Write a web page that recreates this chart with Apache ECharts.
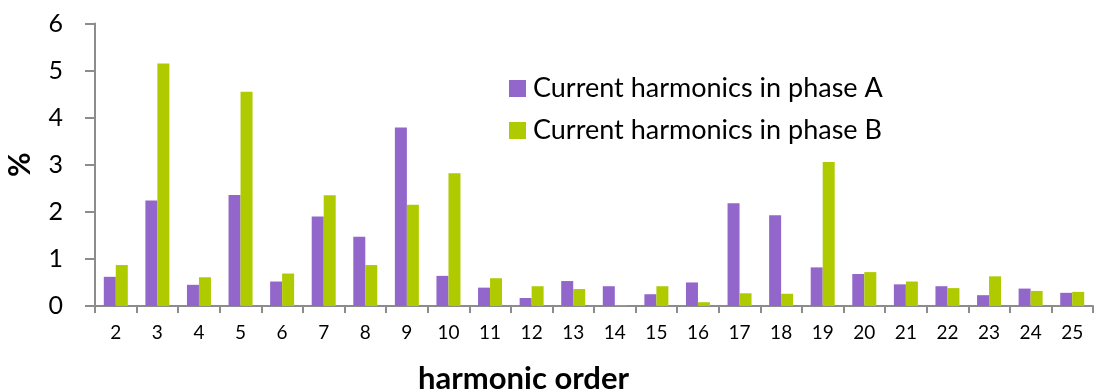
<!DOCTYPE html>
<html>
<head>
<meta charset="utf-8">
<script src="https://cdn.jsdelivr.net/npm/echarts@6/dist/echarts.min.js"></script>
<style>html,body{margin:0;padding:0;background:#fff;}#c{width:1094px;height:392px;}</style>
</head>
<body>
<div id="c"></div>
<script>
const categories = ['2','3','4','5','6','7','8','9','10','11','12','13','14','15','16','17','18','19','20','21','22','23','24','25'];
const phaseA = [0.62,2.24,0.45,2.36,0.52,1.90,1.47,3.79,0.64,0.39,0.17,0.53,0.42,0.25,0.50,2.18,1.93,0.82,0.68,0.46,0.42,0.23,0.37,0.28];
const phaseB = [0.87,5.15,0.61,4.55,0.69,2.35,0.87,2.15,2.82,0.59,0.42,0.36,0.01,0.42,0.08,0.27,0.26,3.06,0.72,0.52,0.38,0.63,0.32,0.30];
const seriesNames = ['Current harmonics in phase A','Current harmonics in phase B'];
const yTicks = {min:0, max:6, interval:1};

const FONT = 'Lato';
const chart = echarts.init(document.getElementById('c'), null, {renderer:'canvas'});
chart.setOption({
  animation:false,
  textStyle:{fontFamily:FONT},
  title:{text:'harmonic order', left:413, top:358,
    textStyle:{fontFamily:FONT, fontSize:31, fontWeight:'bold', color:'#000'}},
  legend:{orient:'vertical', left:509, top:75, padding:0, itemWidth:17, itemHeight:17, itemGap:15, icon:'rect',
    textStyle:{fontFamily:FONT, fontSize:27, lineHeight:20, color:'#000', padding:[0,0,0,2]},
    data:seriesNames},
  grid:{left:95, right:1, top:23.5, bottom:86, containLabel:false, outerBoundsMode:'none'},
  xAxis:{type:'category', data:categories,
    axisLine:{lineStyle:{color:'#8c8c8c', width:2}},
    axisTick:{show:true, length:7, lineStyle:{color:'#8c8c8c', width:2}},
    axisLabel:{color:'#000', fontSize:19, fontFamily:FONT, margin:17}},
  yAxis:{type:'value', min:yTicks.min, max:yTicks.max, interval:yTicks.interval,
    name:'%', nameLocation:'middle', nameGap:60, nameRotate:90,
    nameTextStyle:{fontFamily:FONT, fontSize:30, fontWeight:'bold', color:'#000'},
    splitLine:{show:false},
    axisLine:{show:true, lineStyle:{color:'#8c8c8c', width:2}},
    axisTick:{show:true, length:10, lineStyle:{color:'#8c8c8c', width:2}},
    axisLabel:{color:'#000', fontSize:25, fontFamily:FONT, margin:32}},
  series:[
    {name:seriesNames[0], type:'bar', data:phaseA, barWidth:12, barGap:'0%', itemStyle:{color:'#9366CC'}},
    {name:seriesNames[1], type:'bar', data:phaseB, barWidth:12, barGap:'0%', itemStyle:{color:'#AFCB00'}}
  ]
});
</script>
</body>
</html>
